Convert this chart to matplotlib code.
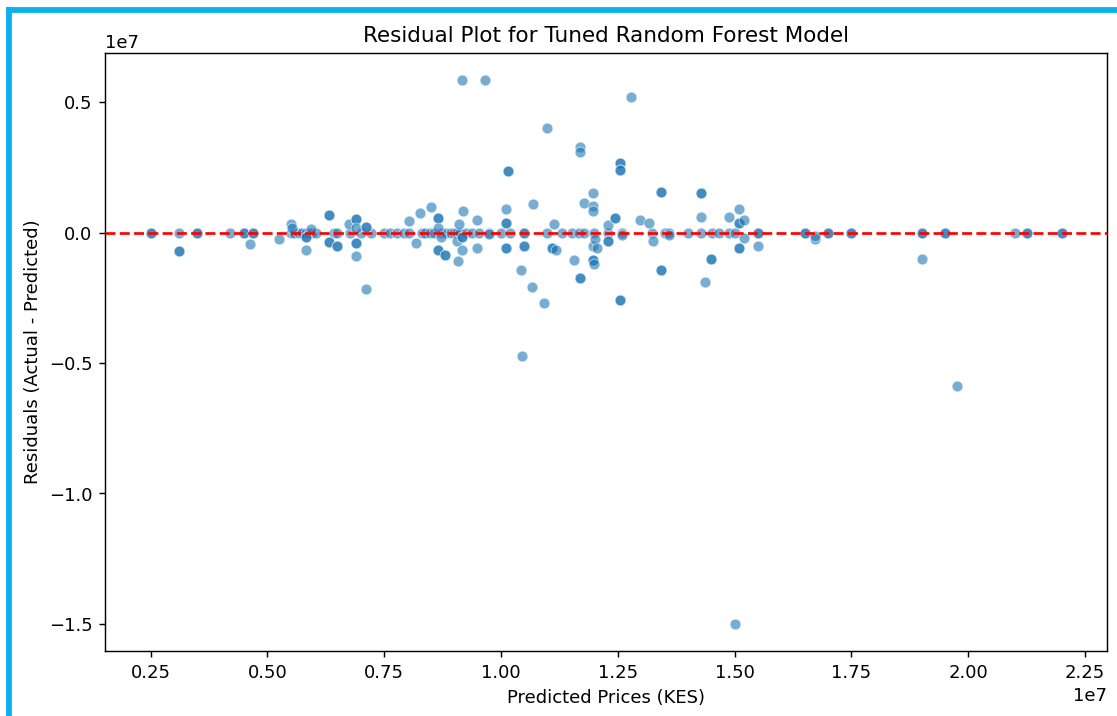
import numpy as np
import matplotlib
matplotlib.use("Agg")
import matplotlib.pyplot as plt
from matplotlib.patches import Rectangle

# predicted prices and residuals, both in millions of KES
# points that sit exactly on the zero line
zero_pred = [2.5, 2.5, 3.1, 3.5, 3.5, 4.2, 4.5, 4.5, 4.7, 4.7, 5.5, 5.57, 5.68, 5.75,
             5.82, 5.89, 5.96, 6.03, 6.42, 6.5, 6.76, 7.0, 7.21, 7.49, 7.63, 7.78,
             7.92, 8.03, 8.31, 8.38, 8.49, 8.56, 8.71, 8.82, 8.92, 8.99, 9.06, 9.13,
             9.24, 9.38, 9.53, 9.74, 9.99, 10.2, 10.49, 10.49, 10.99, 11.31, 11.52,
             11.66, 11.77, 11.98, 12.3, 12.59, 13.23, 13.5, 13.6, 14.0, 14.28, 14.52,
             14.66, 14.87, 15.01, 15.5, 15.5, 16.5, 16.5, 17.0, 17.0, 17.5, 17.5,
             19.0, 19.0, 19.5, 19.5, 21.0, 21.25, 21.25, 22.0, 22.0]

# points off the zero line
off_pred = [3.1, 3.1, 4.62, 5.24, 5.5, 5.52, 5.82, 5.82, 5.82, 5.93, 6.32, 6.32, 6.32, 6.32,
            6.48, 6.48, 6.74, 6.89, 6.89, 6.89, 6.89, 6.89, 6.89, 7.12, 7.12, 7.12,
            8.03, 8.17, 8.26, 8.51, 8.65, 8.65, 8.65, 8.65, 8.65, 8.81, 8.81, 8.71,
            9.06, 9.1, 9.08, 9.17, 9.19, 9.17, 9.17, 9.16, 9.65, 9.49, 9.49, 9.74,
            10.1, 10.1, 10.1, 10.1, 10.1, 10.15, 10.15, 10.42, 10.44, 10.49, 10.49,
            10.67, 10.69, 10.91, 10.99, 11.13, 11.1, 11.1, 11.17, 11.56, 11.7, 11.7,
            11.7, 11.7, 11.77, 11.96, 11.96, 11.96, 11.96, 12.02, 11.96, 11.96, 11.98,
            12.06, 12.3, 12.3, 12.3, 12.43, 12.43, 12.54, 12.54, 12.54, 12.54, 12.54,
            12.54, 12.59, 12.79, 12.98, 13.16, 13.25, 13.42, 13.42, 13.42, 13.42,
            13.59, 14.28, 14.28, 14.28, 14.37, 14.5, 14.5, 14.87, 15.09, 15.09, 15.09,
            15.09, 15.09, 15.21, 15.19, 15.51, 15.0, 16.71, 16.71, 19.0, 19.75]
off_resid = [-0.70, -0.70, -0.45, -0.26, 0.32, 0.19, -0.19, -0.19, -0.68, 0.13, 0.68, 0.68,
             -0.36, -0.36, -0.53, -0.53, 0.32, 0.51, 0.51, 0.19, -0.42, -0.42, -0.90,
             0.22, 0.22, -2.15, 0.45, -0.42, 0.74, 0.98, 0.54, 0.54, 0.19, -0.68, -0.68,
             -0.86, -0.86, -0.19, -0.32, 0.32, -1.09, -0.68, 0.81, -0.17, -0.17, 5.85,
             5.84, 0.47, -0.58, -0.07, 0.89, 0.38, 0.38, -0.60, -0.60, 2.36, 2.36, -1.45,
             -4.74, -0.51, -0.51, -2.09, 1.09, -2.72, 4.0, 0.32, -0.61, -0.61, -0.67,
             -1.06, -1.75, -1.75, 3.26, 3.07, 1.12, 1.53, 1.02, 0.81, -0.51, -0.26, -1.06,
             -1.06, -1.22, -0.58, 0.29, -0.32, -0.32, 0.54, 0.54, 2.65, 2.65, 2.40, 2.40,
             -2.6, -2.6, -0.09, 5.2, 0.48, 0.35, -0.32, 1.57, 1.57, -1.45, -1.45, -0.09,
             1.53, 1.53, 0.58, -1.89, -1.02, -1.02, 0.58, 0.89, 0.38, 0.38, -0.61, -0.61,
             0.48, -0.22, -0.51, -15.0, -0.23, -0.15, -1.02, -5.9]

predicted = np.array(zero_pred + off_pred) * 1e6
residuals = np.array([0.0] * len(zero_pred) + off_resid) * 1e6

# screenshot was the default 10x6 figure scaled up, so use a bigger dpi
DPI = 129.3
fig = plt.figure(figsize=(1117.3 / DPI, 716.3 / DPI), dpi=DPI)
ax = fig.add_axes([105 / 1117, 1 - 651 / 716, 1002 / 1117, 598 / 716])

ax.scatter(predicted, residuals, s=36, color="#1f77b4", alpha=0.6,
           edgecolors="white", linewidths=0.48, zorder=2)
ax.axhline(0, color="red", linestyle="--", zorder=3)

ax.set_title("Residual Plot for Tuned Random Forest Model")
ax.set_xlabel("Predicted Prices (KES)")
ax.set_ylabel("Residuals (Actual - Predicted)")

# blue frame of the notebook cell in the screenshot
fig.patches.append(Rectangle((7 / 1117, 1 - 12.3 / 716), 1 - 7 / 1117, 4 / 716,
                             transform=fig.transFigure, color="#0ab1ee", zorder=10))
fig.patches.append(Rectangle((7 / 1117, 0), 3.8 / 1117, 1 - 8.3 / 716,
                             transform=fig.transFigure, color="#0ab1ee", zorder=10))

fig.savefig("out.png", dpi=DPI)
